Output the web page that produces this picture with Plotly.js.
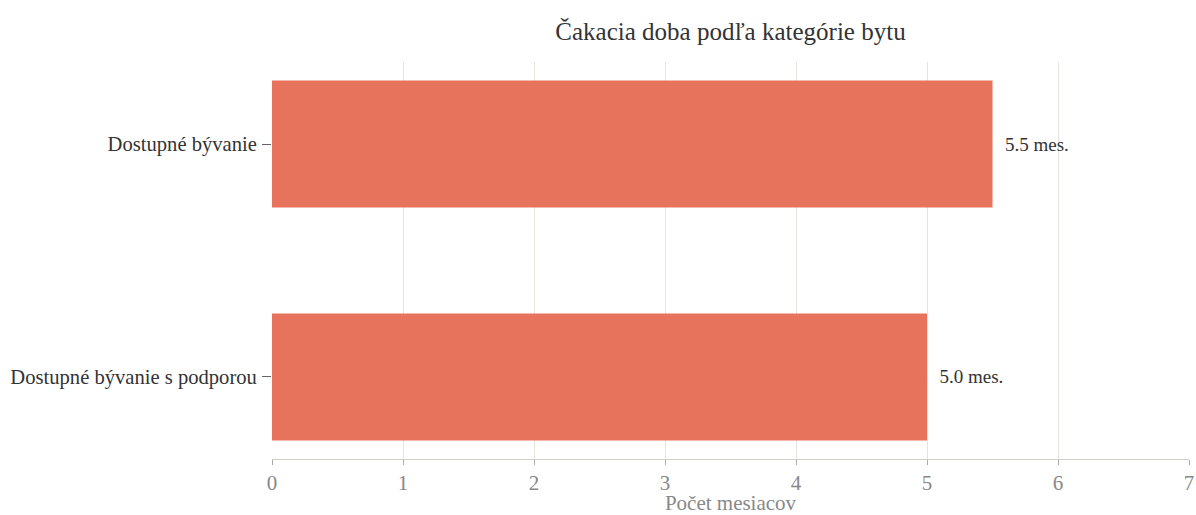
<!DOCTYPE html>
<html>
<head>
<meta charset="utf-8">
<script src="https://cdn.plot.ly/plotly-3.0.1.min.js"></script>
<style>
  html, body { margin: 0; padding: 0; background: #fff; }
  #chart { width: 1196px; height: 515px; }
</style>
</head>
<body>
<div id="chart"></div>
<script>
  // Kategórie a hodnoty (zdola nahor)
  const categories = ['Dostupné bývanie s podporou', 'Dostupné bývanie'];
  const months = [5.0, 5.5];
  const labels = months.map(v => '\u00a0\u00a0' + v.toFixed(1) + ' mes.');

  const FONT = 'Liberation Serif, Times New Roman, serif';
  const BAR = '#e8735c';

  Plotly.newPlot('chart', [{
    type: 'bar',
    orientation: 'h',
    x: months,
    y: categories,
    width: 0.545,
    text: labels,
    textposition: 'outside',
    cliponaxis: false,
    textfont: { family: FONT, size: 19, color: '#333' },
    marker: { color: BAR },
    hoverinfo: 'x+y'
  }], {
    title: {
      text: 'Čakacia doba podľa kategórie bytu',
      font: { family: FONT, size: 25, color: '#333' },
      x: 0.5, xref: 'paper', xanchor: 'center',
      y: 25, yref: 'container', yanchor: 'middle'
    },
    font: { family: FONT },
    margin: { l: 272, r: 7, t: 62, b: 56 },
    paper_bgcolor: '#fff',
    plot_bgcolor: '#fff',
    showlegend: false,
    xaxis: {
      range: [0, 7],
      dtick: 1,
      showgrid: true,
      gridcolor: '#e4e4de',
      zeroline: false,
      showline: true,
      linecolor: '#d0d0ca',
      linewidth: 1,
      ticks: 'outside',
      ticklen: 5,
      tickcolor: '#aaa',
      tickfont: { family: FONT, size: 21, color: '#888' },
      title: { text: 'Počet mesiacov', font: { family: FONT, size: 21, color: '#888' }, standoff: 9 }
    },
    yaxis: {
      type: 'category',
      range: [-0.352, 1.352],
      showgrid: false,
      zeroline: false,
      showline: false,
      ticks: 'outside',
      ticklen: 9,
      tickcolor: '#666',
      ticklabelstandoff: 1,
      tickfont: { family: FONT, size: 20.6, color: '#333' }
    }
  }, { displayModeBar: false, responsive: false });
</script>
</body>
</html>
